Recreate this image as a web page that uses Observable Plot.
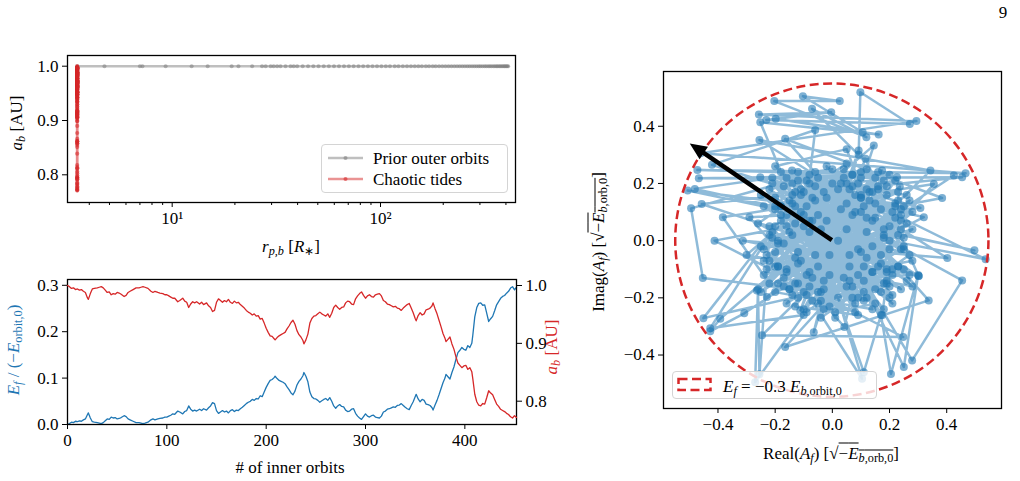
<!DOCTYPE html>
<html><head><meta charset="utf-8">
<script src="https://cdn.jsdelivr.net/npm/d3@7"></script>
<script src="https://cdn.jsdelivr.net/npm/@observablehq/plot@0.6"></script>
<style>
body{margin:0;background:#fff;}
#wrap{position:relative;width:1020px;height:481px;overflow:hidden;font-family:"Liberation Serif",serif;color:#000;}
#wrap svg.plt{position:absolute;}
.lbl{position:absolute;font-size:17px;white-space:nowrap;line-height:1;}
.rot{transform:translate(-50%,-50%) rotate(-90deg);}
.hc{transform:translate(-50%,-50%);}
sub{font-size:0.72em;vertical-align:-0.28em;line-height:0;}
.ov{text-decoration:overline;}
.leg{position:absolute;border:1px solid #d4d4d4;border-radius:4px;background:rgba(255,255,255,0.8);box-sizing:border-box;}
</style></head><body><div id="wrap"></div>
<script>
// ---------- Top-left: a_b vs r_p,b ----------
const priorRp = [410,405,401,396,392,387,382,376,371,365,360,354,348,341,335,329,322,316,309,302,296,289,282,275,268,261,254,247,240,233,226,219,212,205,198,191,184,178,171,165,158,152,146,140,134,128,122,117,111,106,101,96.2,91.5,87.0,82.6,78.4,74.3,70.5,66.8,63.2,59.8,56.5,53.4,50.4,47.6,44.9,42.3,39.8,38.3,37.0,35.0,33.1,31.9,30.7,29.7,28.1,27.0,24.2,20.8,19.3,14.8,12.4,9.3,7.2,7.0,4.73,3.5];
const priorSemiMajor = 1.0;
const chaoticRp = 3.5;
const logMajorTicks = [10, 100];
const logMinorTicks = [4,5,6,7,8,9,20,30,40,50,60,70,80,90,200,300,400];
const topYTicks = [0.8, 0.9, 1.0];

// ---------- Bottom-left: E_f and a_b vs orbit ----------
const orbitN = [0,2,4,6,8,10,12,14,16,18,20,21,23,25,27,30,32,34,36,38,40,42,44,46,48,50,52,54,57,59,61,63,66,69,72,74,76,78,81,84,86,88,91,93,96,98,100,102,104,106,108,111,113,116,118,120,122,124,126,128,130,133,135,137,140,142,144,146,148,150,152,154,156,158,160,162,164,166,168,170,172,174,176,178,180,182,184,186,188,190,192,194,196,198,200,202,204,206,208,209,211,213,215,217,219,221,223,225,227,229,231,233,235,237,238,240,242,244,246,248,250,252,254,256,258,260,262,264,266,268,270,272,274,276,278,280,282,284,286,288,290,292,294,296,298,300,302,304,306,308,310,312,314,316,318,320,322,324,326,328,330,332,334,336,338,340,342,344,346,348,350,351,353,355,357,359,361,363,365,367,368,370,372,374,376,378,380,381,383,385,387,389,391,393,395,397,399,401,403,405,407,408,410,412,414,416,418,420,422,424,426,428,430,432,434,436,438,440,442,444,446,448,450,452];
const energyF = [0.000,0.002,0.005,0.004,0.007,0.006,0.008,0.007,0.010,0.012,0.021,0.025,0.014,0.006,0.005,0.004,0.003,0.002,0.004,0.008,0.012,0.011,0.016,0.014,0.015,0.012,0.013,0.015,0.019,0.017,0.012,0.010,0.007,0.004,0.004,0.003,0.002,0.003,0.005,0.010,0.012,0.010,0.012,0.013,0.014,0.016,0.016,0.018,0.020,0.023,0.022,0.029,0.027,0.023,0.028,0.030,0.040,0.033,0.029,0.031,0.029,0.033,0.030,0.034,0.031,0.036,0.040,0.047,0.045,0.030,0.024,0.027,0.030,0.027,0.029,0.025,0.030,0.032,0.028,0.031,0.030,0.034,0.037,0.041,0.045,0.048,0.050,0.054,0.052,0.056,0.055,0.062,0.060,0.070,0.080,0.088,0.095,0.097,0.101,0.104,0.099,0.095,0.093,0.091,0.088,0.081,0.075,0.068,0.064,0.072,0.085,0.093,0.098,0.105,0.112,0.104,0.092,0.070,0.060,0.056,0.055,0.052,0.048,0.051,0.054,0.056,0.052,0.058,0.050,0.040,0.035,0.040,0.043,0.039,0.038,0.031,0.028,0.029,0.033,0.034,0.024,0.018,0.014,0.011,0.017,0.023,0.018,0.016,0.019,0.020,0.016,0.015,0.014,0.018,0.027,0.029,0.033,0.034,0.036,0.038,0.037,0.041,0.042,0.045,0.041,0.037,0.034,0.032,0.041,0.049,0.060,0.065,0.055,0.049,0.054,0.052,0.044,0.043,0.041,0.036,0.031,0.042,0.052,0.064,0.077,0.090,0.100,0.108,0.103,0.098,0.112,0.124,0.140,0.155,0.160,0.166,0.162,0.160,0.170,0.166,0.175,0.192,0.232,0.252,0.261,0.262,0.257,0.258,0.240,0.222,0.228,0.233,0.245,0.258,0.265,0.272,0.276,0.278,0.283,0.287,0.294,0.297,0.290,0.296];
const semiMajor = [1.000,0.998,0.995,0.996,0.993,0.994,0.992,0.993,0.990,0.988,0.979,0.976,0.986,0.994,0.995,0.996,0.997,0.998,0.996,0.992,0.988,0.989,0.984,0.986,0.985,0.988,0.987,0.985,0.981,0.983,0.988,0.990,0.993,0.996,0.996,0.997,0.998,0.997,0.995,0.990,0.988,0.990,0.988,0.987,0.986,0.984,0.984,0.982,0.980,0.978,0.978,0.972,0.974,0.978,0.973,0.971,0.962,0.968,0.972,0.970,0.972,0.968,0.971,0.967,0.970,0.965,0.962,0.955,0.957,0.971,0.977,0.974,0.971,0.974,0.972,0.976,0.971,0.969,0.973,0.970,0.971,0.967,0.964,0.961,0.957,0.954,0.952,0.949,0.951,0.947,0.948,0.942,0.943,0.935,0.926,0.919,0.913,0.912,0.908,0.906,0.910,0.913,0.915,0.917,0.919,0.925,0.930,0.936,0.940,0.933,0.922,0.915,0.911,0.905,0.899,0.906,0.916,0.935,0.943,0.947,0.948,0.951,0.954,0.951,0.949,0.947,0.951,0.945,0.952,0.962,0.966,0.962,0.959,0.962,0.963,0.970,0.973,0.972,0.968,0.967,0.977,0.982,0.986,0.989,0.983,0.978,0.982,0.984,0.981,0.980,0.984,0.985,0.986,0.982,0.974,0.972,0.968,0.967,0.965,0.963,0.964,0.961,0.960,0.957,0.961,0.964,0.967,0.969,0.961,0.953,0.943,0.939,0.948,0.953,0.949,0.951,0.958,0.959,0.961,0.965,0.970,0.960,0.951,0.940,0.929,0.917,0.909,0.903,0.907,0.911,0.899,0.890,0.877,0.866,0.862,0.858,0.861,0.862,0.855,0.858,0.851,0.839,0.812,0.799,0.793,0.792,0.796,0.795,0.806,0.818,0.814,0.811,0.803,0.795,0.791,0.786,0.784,0.782,0.779,0.777,0.773,0.771,0.775,0.772];
const orbitTicks = [0,100,200,300,400];
const energyTicks = [0.0,0.1,0.2,0.3];
const semiMajorTicks = [0.8,0.9,1.0];

// ---------- Right: complex amplitude path (Real, Imag) ----------
const amplitudePath = [
[0.02,0.00],[0.05,0.04],[-0.02,0.07],[0.09,-0.03],[-0.06,-0.05],[0.07,0.09],[-0.08,0.03],[0.11,-0.09],[-0.01,-0.12],[0.14,0.07],
[-0.11,0.10],[0.06,-0.14],[-0.07,-0.13],[0.18,0.01],[-0.12,-0.04],[0.10,0.16],[-0.03,0.17],[0.19,-0.10],[-0.16,0.05],[0.03,0.20],
[-0.10,-0.18],[0.22,0.08],[-0.19,-0.09],[0.12,-0.20],[-0.14,0.16],[0.24,-0.03],[-0.05,-0.22],[0.16,0.18],[-0.21,0.01],[0.20,-0.16],
[-0.15,-0.17],[0.07,0.23],[-0.20,0.12],[0.25,0.12],[0.01,-0.25],[0.15,-0.22],[-0.23,-0.05],[0.23,0.17],[-0.08,0.23],[0.28,-0.07],
[-0.13,-0.15],[0.09,0.20],[-0.18,0.07],[0.15,-0.17],[-0.04,-0.21],[0.21,0.10],[-0.15,0.14],[0.23,0.02],[-0.09,-0.19],[0.04,0.22],
[-0.19,-0.09],[0.19,-0.14],[-0.08,0.20],[0.24,0.07],[-0.17,-0.13],[0.11,-0.21],[-0.13,0.17],[0.22,0.13],[-0.01,-0.23],[0.16,0.19],
[-0.21,0.03],[0.21,-0.12],[-0.05,0.22],[0.25,-0.03],[-0.15,-0.17],[0.07,0.23],[-0.20,0.11],[0.17,-0.18],[-0.10,0.09],[0.12,-0.06],
[-0.06,0.14],[0.18,0.04],[-0.12,-0.08],[0.08,0.16],[-0.03,-0.14],[0.14,-0.11],[-0.14,0.02],[0.11,0.12],[-0.09,-0.12],[0.17,-0.05],
[-0.07,0.07],[0.05,-0.16],[-0.11,0.16],[0.20,0.05],[-0.16,-0.11],[0.13,0.17],[0.00,0.20],[0.18,-0.15],[-0.18,0.12],[0.15,0.08],
[-0.04,-0.18],[0.23,-0.09],[-0.13,0.06],[0.10,0.15],[-0.08,-0.16],[0.19,0.16],[-0.19,-0.01],[0.07,-0.20],[-0.12,0.21],[0.24,0.11],
[0.03,0.11],[-0.14,-0.19],[0.19,0.19],[-0.22,0.05],[0.08,-0.22],[-0.02,0.15],[0.25,-0.10],[-0.17,0.19],[0.12,0.03],[-0.07,-0.21],
[0.22,0.21],[-0.24,0.12],[0.06,-0.09],[-0.12,0.24],[0.27,-0.12],[-0.19,-0.15],[0.15,0.22],[-0.03,-0.17],[0.20,-0.03],[-0.09,0.12],
[0.11,-0.18],[-0.23,-0.10],[0.04,0.25],[-0.15,0.03],[0.24,-0.17],[-0.05,0.09],[0.17,0.11],[-0.20,-0.04],[0.09,-0.12],[-0.11,0.18],
[0.226,0.222],[-0.264,-0.174],[0.174,0.245],[0.042,-0.302],[-0.290,0.082],[0.308,0.114],[-0.141,0.245],[0.174,-0.261],[0.236,0.189],[-0.229,-0.197],
[0.320,0.082],[-0.252,0.222],[0.302,-0.124],[0.116,0.286],[-0.112,-0.244],[0.092,0.315],[-0.065,-0.320],[0.145,0.333],[-0.300,-0.050],[0.280,-0.160],
[-0.200,0.260],[0.050,0.320],
[0.21,-0.10],[-0.18,0.12],[0.05,0.20],[-0.12,-0.20],[0.24,0.04],[-0.22,-0.07],[0.10,0.22],[-0.03,-0.24],[0.19,-0.15],[-0.20,0.15],
[0.26,-0.14],[-0.22,0.18],[0.12,0.25],[-0.24,-0.12],[0.28,0.04],[-0.09,-0.25],[0.05,0.27],[-0.26,0.06],[0.21,-0.19],[-0.16,0.22],
[0.14,0.17],[-0.16,-0.10],[0.09,-0.20],[-0.09,0.21],[0.22,0.12],[-0.24,-0.03],[0.02,0.18],[0.17,-0.08],[-0.13,0.12],[0.07,-0.16],
[0.27,0.14],[-0.20,-0.18],[0.14,-0.24],[-0.02,0.26],[0.25,-0.02],[-0.25,-0.02],[0.18,0.21],[-0.13,-0.23],[0.09,-0.26],[-0.18,0.24],
[-0.17,-0.16],[0.23,-0.09],[-0.06,0.19],[0.12,0.08],[-0.11,-0.07],[0.08,0.10],[-0.05,-0.09],[0.10,-0.04],[-0.08,0.07],[0.15,0.13],
[-0.19,0.00],[0.04,-0.13],[-0.14,0.20],[0.20,-0.20],[-0.21,0.22],[0.26,0.16],[-0.25,-0.18],[0.16,0.24],[-0.04,-0.27],[0.27,-0.05],
[-0.16,0.09],[0.11,-0.14],[-0.07,0.15],[0.18,0.02],[-0.12,-0.15],[0.06,0.18],[-0.20,-0.09],[0.14,-0.11],[-0.10,0.17],[0.24,0.09],
[0.26,0.06],[-0.16,-0.22],[0.13,0.14],[-0.01,-0.05],[0.21,-0.22],[-0.25,0.16],[0.07,0.19],[-0.08,-0.11],[0.16,-0.09],[-0.18,0.09],
[0.01,-0.27],[0.23,0.14],[-0.13,-0.06],[0.10,0.24],[-0.21,0.20],[0.18,-0.24],[-0.04,0.04],[0.14,-0.02],[-0.24,-0.07],[0.05,0.13],
[0.28,0.10],[-0.10,-0.24],[0.12,0.18],[-0.17,-0.01],[0.19,-0.11],[-0.06,0.24],[0.25,0.01],[-0.14,0.13],[0.08,-0.25],[-0.22,-0.15],
[-0.383,0.082],[0.355,0.198],[-0.165,-0.372],[0.337,-0.209],[-0.165,0.356],[0.384,0.149],[-0.412,0.000],[0.248,-0.337],[-0.246,-0.331],[0.343,0.245],
[-0.255,0.352],[0.402,-0.061],[-0.313,0.000],[0.302,-0.124],
[-0.457,0.128],[0.454,0.222],[-0.467,0.218],[0.20,0.23],[-0.472,0.247],[0.466,0.236],[-0.460,0.306],[0.294,0.418],[-0.257,0.441],[-0.004,0.449],
[-0.231,0.422],[0.271,0.408],[0.098,0.519],[0.092,0.300],[-0.071,0.461],[0.119,0.362],[-0.203,0.488],[0.026,0.488],[-0.103,0.505],[0.106,0.379],
[-0.198,0.426],[0.162,0.371],[-0.252,0.414],[-0.10,0.05],[-0.060,0.387],[-0.421,0.265],[0.10,0.10],[-0.506,0.175],[0.497,-0.034],[-0.481,0.181],
[0.00,0.25],[-0.494,0.113],[-0.453,-0.131],[-0.05,-0.18],[-0.451,-0.271],[-0.20,0.05],[-0.427,-0.306],[-0.10,-0.26],[-0.270,-0.495],[-0.26,-0.17],
[-0.255,-0.467],[-0.22,0.02],[0.104,-0.483],[0.02,-0.20],[0.110,-0.460],[0.17,-0.26],[0.205,-0.466],[0.30,-0.12],[0.250,-0.442],[0.06,-0.05],
[0.279,-0.419],[0.454,-0.139],[0.20,0.00],[0.536,-0.065],[0.10,0.15],[-0.392,-0.273],[-0.427,-0.317],[-0.308,-0.254],[0.425,0.228]
];
const arrowTail = [0.0, 0.0];
const arrowHead = [-0.497, 0.338];
const energyThreshold = 0.3;
const ampTicks = [-0.4,-0.2,0.0,0.2,0.4];

// ---------- build ----------
const wrap = document.getElementById("wrap");
const baseStyle = {fontFamily: "Liberation Serif", fontSize: "17px", background: "none", overflow: "visible", color: "black"};
const f1 = d3.format(".1f");
function place(svg, left, top) {
  svg.classList.add("plt");
  svg.style.position = "absolute";
  svg.style.left = left + "px";
  svg.style.top = top + "px";
  wrap.appendChild(svg);
}
function html(s, left, top, cls, color) {
  const d = document.createElement("div");
  d.className = "lbl " + (cls || "");
  d.style.left = left + "px"; d.style.top = top + "px";
  if (color) d.style.color = color;
  d.innerHTML = s;
  wrap.appendChild(d);
  return d;
}

const priorData = priorRp.map(r => ({rp: r, a: priorSemiMajor}));
const chaosData = semiMajor.map(a => ({rp: chaoticRp, a}));

const topPlot = Plot.plot({
  width: 560, height: 270, marginLeft: 67, marginRight: 45, marginTop: 55, marginBottom: 68,
  style: baseStyle,
  x: {type: "log", domain: [3.144, 444.6], label: null},
  y: {domain: [0.749, 1.0197], label: null},
  marks: [
    Plot.axisX({ticks: logMinorTicks, tickSize: 3, tickFormat: () => "", label: null}),
    Plot.axisX({ticks: logMajorTicks, tickSize: 5, tickPadding: 4, tickFormat: d => d === 10 ? "10\u00b9" : "10\u00b2", label: null}),
    Plot.axisY({ticks: topYTicks, tickSize: 5, tickFormat: f1, label: null}),
    Plot.line(priorData, {x: "rp", y: "a", stroke: "#808080", strokeOpacity: 0.5, strokeWidth: 2.5}),
    Plot.dot(priorData, {x: "rp", y: "a", r: 2, fill: "#808080", fillOpacity: 0.55, stroke: "none"}),
    Plot.line(chaosData, {x: "rp", y: "a", stroke: "#d62728", strokeOpacity: 0.55, strokeWidth: 2.8}),
    Plot.dot(chaosData, {x: "rp", y: "a", r: 2.1, fill: "#d62728", fillOpacity: 0.55, stroke: "none"}),
    Plot.frame({stroke: "black", strokeWidth: 1.3})
  ]
});
place(topPlot, 0, 0);

const evo = orbitN.map((n, i) => ({n, E: energyF[i], a: semiMajor[i]}));
const botPlot = Plot.plot({
  width: 560, height: 240, marginLeft: 67, marginRight: 44, marginTop: 39, marginBottom: 56,
  style: baseStyle,
  x: {domain: [0, 452], label: null},
  y: {domain: [0, 0.3125], label: null},
  marks: [
    Plot.axisX({ticks: orbitTicks, tickSize: 5, tickPadding: 4, label: null}),
    Plot.axisY({ticks: energyTicks, tickSize: 5, tickFormat: f1, label: null}),
    Plot.line(evo, {x: "n", y: "E", stroke: "#1f77b4", strokeWidth: 1.3}),
    Plot.frame({stroke: "black", strokeWidth: 1.3})
  ]
});
place(botPlot, 0, 240);

const twinPlot = Plot.plot({
  width: 560, height: 240, marginLeft: 67, marginRight: 44, marginTop: 39, marginBottom: 56,
  style: baseStyle,
  x: {domain: [0, 452], axis: null, label: null},
  y: {domain: [0.7597, 1.0104], label: null},
  marks: [
    Plot.axisY({anchor: "right", ticks: semiMajorTicks, tickSize: 5, tickFormat: f1, label: null}),
    Plot.line(evo, {x: "n", y: "a", stroke: "#d62728", strokeWidth: 1.3})
  ]
});
place(twinPlot, 0, 240);

const amp = amplitudePath.map(([re, im]) => ({re, im}));
const circleMark = (index, scales) => {
  const R = Math.sqrt(energyThreshold);
  return d3.create("svg:ellipse")
    .attr("cx", scales.x(0)).attr("cy", scales.y(0))
    .attr("rx", scales.x(R) - scales.x(0)).attr("ry", scales.y(0) - scales.y(R))
    .attr("fill", "none").attr("stroke", "#d62728").attr("stroke-width", 2.5)
    .attr("stroke-dasharray", "9,4.5").node();
};
const arrowMark = (index, scales) => {
  const x0 = scales.x(arrowTail[0]), y0 = scales.y(arrowTail[1]);
  const x1 = scales.x(arrowHead[0]), y1 = scales.y(arrowHead[1]);
  const dx = x1 - x0, dy = y1 - y0, L = Math.hypot(dx, dy), ux = dx / L, uy = dy / L;
  const hl = 17, hw = 7.5;
  const bx = x1 - ux * hl, by = y1 - uy * hl;
  const g = d3.create("svg:g");
  g.append("line").attr("x1", x0).attr("y1", y0).attr("x2", bx + ux * 2).attr("y2", by + uy * 2)
    .attr("stroke", "black").attr("stroke-width", 4.5);
  g.append("polygon")
    .attr("points", [[x1, y1], [bx - uy * hw, by + ux * hw], [bx + uy * hw, by - ux * hw]].map(p => p.join(",")).join(" "))
    .attr("fill", "black");
  return g.node();
};
const rightPlot = Plot.plot({
  width: 420, height: 481, marginLeft: 63, marginRight: 19, marginTop: 71, marginBottom: 73,
  style: baseStyle,
  x: {domain: [-0.5905, 0.5916], label: null},
  y: {domain: [-0.587, 0.5915], label: null},
  marks: [
    Plot.axisX({ticks: ampTicks, tickSize: 5, tickPadding: 4, tickFormat: f1, label: null}),
    Plot.axisY({ticks: ampTicks, tickSize: 5, tickFormat: f1, label: null}),
    Plot.line(amp, {x: "re", y: "im", stroke: "#1f77b4", strokeOpacity: 0.5, strokeWidth: 2.5}),
    Plot.dot(amp, {x: "re", y: "im", r: 4, fill: "#1f77b4", fillOpacity: 0.58, stroke: "none"}),
    circleMark,
    arrowMark,
    Plot.frame({stroke: "black", strokeWidth: 1.3})
  ]
});
place(rightPlot, 600, 0);

// ---------- legends ----------
const leg1 = document.createElement("div");
leg1.className = "leg";
Object.assign(leg1.style, {left: "321px", top: "144px", width: "187px", height: "49px"});
leg1.innerHTML =
  '<svg width="40" height="49" style="position:absolute;left:5px;top:0">' +
  '<line x1="1" x2="36" y1="13" y2="13" stroke="#808080" stroke-opacity="0.5" stroke-width="2.5"/>' +
  '<circle cx="18.5" cy="13" r="2" fill="#808080" fill-opacity="0.6"/>' +
  '<line x1="1" x2="36" y1="34" y2="34" stroke="#d62728" stroke-opacity="0.5" stroke-width="2.5"/>' +
  '<circle cx="18.5" cy="34" r="2" fill="#d62728" fill-opacity="0.6"/></svg>' +
  '<div class="lbl" style="left:51px;top:5px">Prior outer orbits</div>' +
  '<div class="lbl" style="left:51px;top:26px">Chaotic tides</div>';
wrap.appendChild(leg1);

const leg2 = document.createElement("div");
leg2.className = "leg";
Object.assign(leg2.style, {left: "672px", top: "371px", width: "205px", height: "28px"});
leg2.innerHTML =
  '<svg width="40" height="28" style="position:absolute;left:4px;top:0">' +
  '<rect x="1.5" y="7" width="32" height="11" fill="none" stroke="#d62728" stroke-width="2.5" stroke-dasharray="9,4.5"/></svg>' +
  '<div class="lbl" style="left:50px;top:6px"><i>E</i><sub><i>f</i></sub> = \u22120.3 <i>E</i><sub><i>b</i>,orbit,0</sub></div>';
wrap.appendChild(leg2);

// ---------- axis labels ----------
html('<i>a</i><sub><i>b</i></sub> [AU]', 16, 123, "rot");
html('<i>r</i><sub><i>p,b</i></sub> [<i>R</i><sub>\u2217</sub>]', 291, 246, "hc");
html('<i>E</i><sub><i>f</i></sub> / (\u2212<i>E</i><sub>orbit,0</sub>)', 13, 350, "rot", "#1f77b4");
html('<i>a</i><sub><i>b</i></sub> [AU]', 551, 347, "rot", "#d62728");
html('# of inner orbits', 290, 467, "hc");
html('Imag(<i>A</i><sub><i>f</i></sub>) [\u221a<span class="ov">\u2212<i>E</i><sub><i>b</i>,orb,0</sub></span>]', 598, 242, "rot");
html('Real(<i>A</i><sub><i>f</i></sub>) [\u221a<span class="ov">\u2212<i>E</i><sub><i>b</i>,orb,0</sub></span>]', 831, 453, "hc");
html('9', 1003, 12, "hc");
</script></body></html>
